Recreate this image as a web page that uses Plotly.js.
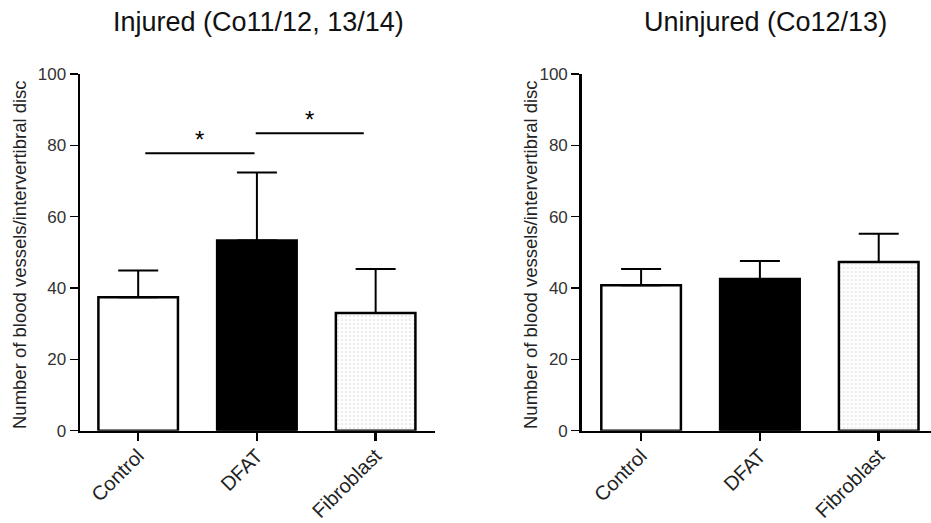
<!DOCTYPE html>
<html>
<head>
<meta charset="utf-8">
<script src="https://cdn.plot.ly/plotly-3.0.1.min.js"></script>
<style>html,body{margin:0;padding:0;background:#fff;}#chart{width:931px;height:523px;}</style>
</head>
<body>
<div id="chart"></div>
<script>
const categories = ["Control", "DFAT", "Fibroblast"];
const injuredMeans = [37.4, 53.3, 33.0];
const injuredErr = [7.5, 19.1, 12.3];
const uninjuredMeans = [40.8, 42.5, 47.3];
const uninjuredErr = [4.5, 5.1, 7.9];
const yTicks = [0, 20, 40, 60, 80, 100];
const titles = ["Injured (Co11/12, 13/14)", "Uninjured (Co12/13)"];
const yTitle = "Number of blood vessels/intervertibral disc";
const sigLines = [[0.06, 0.98, 77.8], [0.99, 1.9, 83.4]];
const sigLabel = "*";

const fills = ["#ffffff", "#000000", "#ececec"];
const patterns = ["", "", "."];

function barTrace(means, errs, xa, ya) {
  return {
    type: "bar", x: categories, y: means, xaxis: xa, yaxis: ya,
    width: 0.67,
    marker: {
      color: fills,
      line: {color: "#000", width: 2.5},
      pattern: {shape: patterns, fgcolor: "#777777", bgcolor: "#ffffff", size: 4, solidity: 0.35, fillmode: "replace"}
    },
    error_y: {type: "data", symmetric: false, array: errs, arrayminus: [0,0,0], color: "#000", thickness: 2, width: 20},
    showlegend: false, hoverinfo: "skip"
  };
}

const FF = "Liberation Sans, Arial, sans-serif";
const axisFont = {family: FF, size: 17, color: "#333"};
const yax = () => ({
  domain: [0.1765, 0.8585], range: [0, 100], tickvals: yTicks, ticktext: yTicks.map(String),
  showgrid: false, zeroline: false, showline: true, linecolor: "#000", linewidth: 2.5,
  ticks: "outside", ticklen: 8, tickwidth: 1.5, tickcolor: "#000", tickfont: axisFont, ticklabelstandoff: 0
});
const xax = (dom, range) => ({
  domain: dom, range: range, type: "category", showgrid: false, zeroline: false, showline: true,
  linecolor: "#000", linewidth: 2.5, ticks: "outside", ticklen: 8, tickwidth: 2.5, tickcolor: "#000",
  tickangle: -45, ticklabelstandoff: -5, tickfont: {family: FF, size: 20, color: "#222"}
});

const shapes = sigLines.map(s => ({type: "line", xref: "x", yref: "y", x0: s[0], x1: s[1], y0: s[2], y1: s[2], line: {color: "#000", width: 2}}));

const annotations = [
  {text: titles[0], xref: "paper", yref: "paper", x: 258/931, y: 1 - 22/523, xanchor: "center", yanchor: "middle", showarrow: false, font: {family: FF, size: 27, color: "#111"}},
  {text: titles[1], xref: "paper", yref: "paper", x: 765/931, y: 1 - 22/523, xanchor: "center", yanchor: "middle", showarrow: false, font: {family: FF, size: 27, color: "#111"}},
  {text: yTitle, xref: "paper", yref: "paper", x: 19/931, y: 1 - 255/523, xanchor: "center", yanchor: "middle", textangle: -90, showarrow: false, font: {family: FF, size: 18.5, color: "#222"}},
  {text: yTitle, xref: "paper", yref: "paper", x: 530/931, y: 1 - 255/523, xanchor: "center", yanchor: "middle", textangle: -90, showarrow: false, font: {family: FF, size: 18.5, color: "#222"}}
].concat(sigLines.map(s => ({
  text: sigLabel, xref: "x", yref: "y", x: (s[0] + s[1]) / 2, y: s[2], yanchor: "bottom", yshift: -2,
  showarrow: false, font: {family: FF, size: 24, color: "#000"}
})));

const layout = {
  width: 931, height: 523, margin: {l: 0, r: 0, t: 0, b: 0},
  paper_bgcolor: "#fff", plot_bgcolor: "rgba(0,0,0,0)",
  xaxis: Object.assign(xax([80/931, 435/931], [-0.49, 2.5]), {anchor: "y"}),
  yaxis: Object.assign(yax(), {anchor: "x"}),
  xaxis2: Object.assign(xax([581.7/931, 1.0], [-0.5, 2.44]), {anchor: "y2"}),
  yaxis2: Object.assign(yax(), {anchor: "x2"}),
  shapes: shapes, annotations: annotations
};

Plotly.newPlot("chart", [barTrace(injuredMeans, injuredErr, "x", "y"), barTrace(uninjuredMeans, uninjuredErr, "x2", "y2")], layout, {staticPlot: true});
</script>
</body>
</html>
